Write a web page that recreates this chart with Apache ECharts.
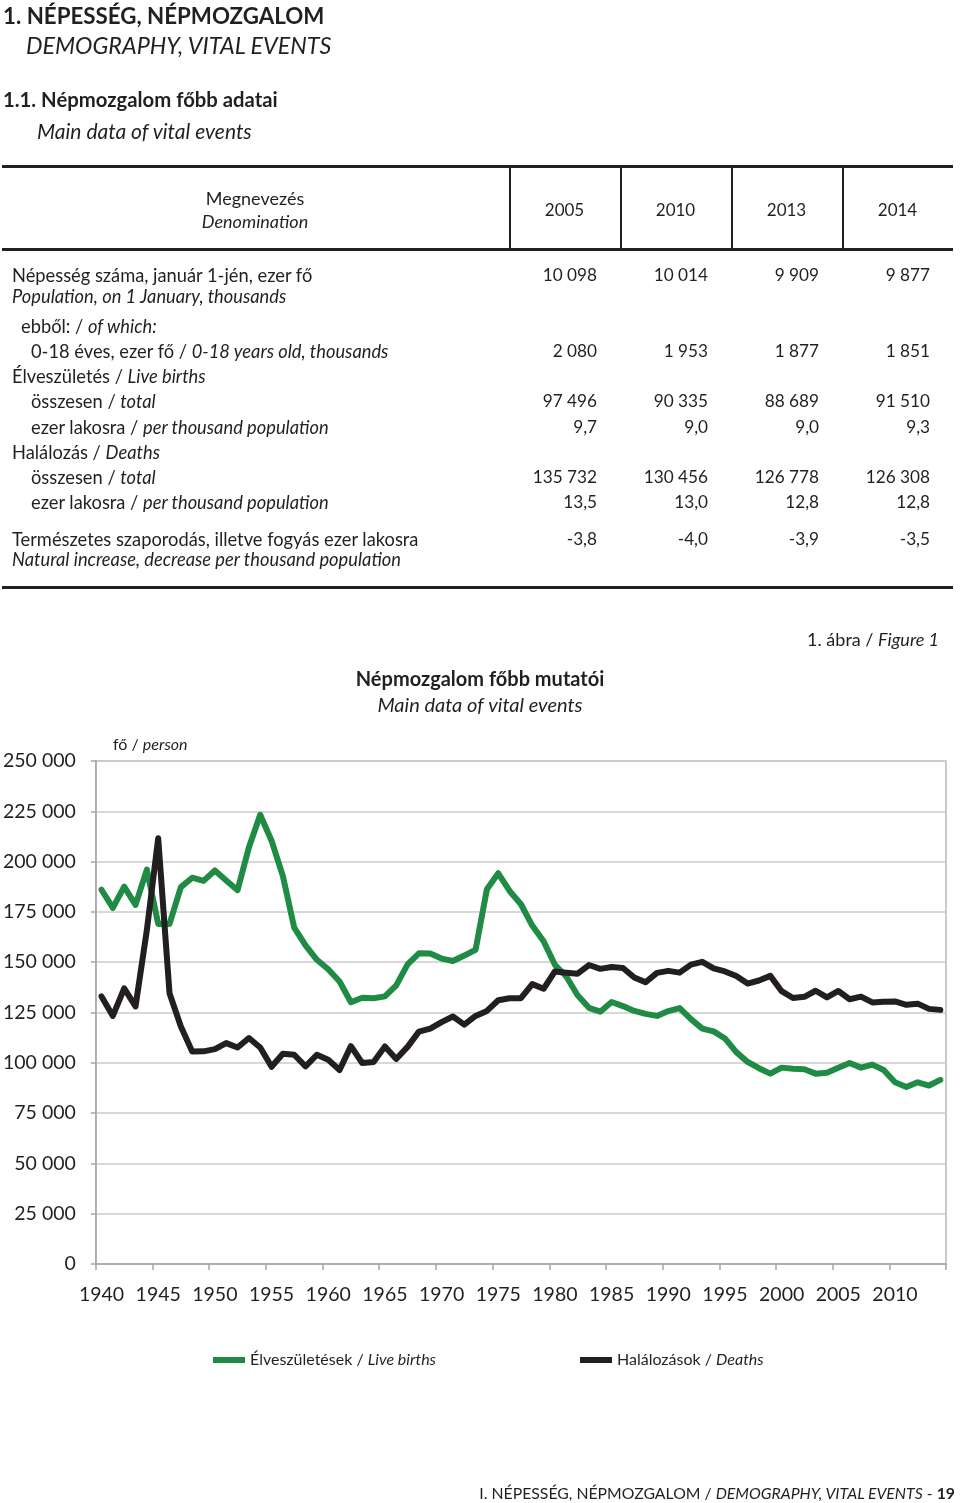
<!DOCTYPE html>
<html>
<head>
<meta charset="utf-8">
<script src="https://cdn.jsdelivr.net/npm/echarts/dist/echarts.min.js"></script>
<style>
html,body{margin:0;padding:0;background:#fff;}
#page{position:relative;width:960px;height:1503px;overflow:hidden;font-family:Lato,'Open Sans',sans-serif;color:#231f20;}
#chart{position:absolute;left:0;top:0;width:960px;height:1503px;}
.t{position:absolute;white-space:nowrap;line-height:1;transform:translateY(-50%);}
.r{transform:translate(-100%,-50%);}
.c{transform:translate(-50%,-50%);}
.ln{position:absolute;background:#231f20;}
</style>
</head>
<body>
<div id="page">
  <div id="chart"></div>
  <div id="overlay"></div>
</div>
<script>
// ---------------- DATA ----------------
const years = [];
for (let y = 1940; y <= 2014; y++) years.push(String(y));

const liveBirths = [
  186000,177000,187600,178500,196000,169000,169000,187300,192000,190400,
  195600,190600,185800,207000,223300,210400,192800,167200,158400,151200,
  146500,140400,130100,132300,132100,133000,138500,148900,154400,154300,
  151800,150600,153300,156200,186300,194200,185400,178800,168200,160400,
  148700,142900,133600,127300,125400,130200,128200,125800,124300,123300,
  125700,127200,121700,117000,115600,112100,105300,100400,97300,94600,
  97600,97000,96800,94600,95100,97500,99900,97600,99100,96400,
  90300,88000,90300,88700,91500
];
const deaths = [
  133000,123300,137000,128000,166000,211600,134600,118000,105600,105700,
  106800,109800,107600,112300,107600,98000,104500,104000,98200,104000,
  101500,96400,108300,99900,100400,108100,101900,107900,115500,117000,
  120200,123000,119000,123300,125800,131100,132100,132100,139100,136800,
  145400,144800,144300,148600,146700,147600,147100,142400,140000,144700,
  145700,144800,148800,150200,146900,145400,143100,139400,140900,143200,
  135600,132200,132800,135800,132500,135700,131600,132900,130000,130400,
  130500,128800,129400,126800,126300
];

const tableYears = ['2005','2010','2013','2014'];
const popTotal    = ['10 098','10 014','9 909','9 877'];
const pop0to18    = ['2 080','1 953','1 877','1 851'];
const birthsTotal = ['97 496','90 335','88 689','91 510'];
const birthsRate  = ['9,7','9,0','9,0','9,3'];
const deathsTotal = ['135 732','130 456','126 778','126 308'];
const deathsRate  = ['13,5','13,0','12,8','12,8'];
const naturalRate = ['-3,8','-4,0','-3,9','-3,5'];

const rowLabels = [
  'Népesség száma, január 1-jén, ezer fő',
  '<i>Population, on 1 January, thousands</i>',
  'ebből: / <i>of which:</i>',
  '0-18 éves, ezer fő / <i>0-18 years old, thousands</i>',
  'Élveszületés / <i>Live births</i>',
  'összesen / <i>total</i>',
  'ezer lakosra / <i>per thousand population</i>',
  'Halálozás / <i>Deaths</i>',
  'összesen / <i>total</i>',
  'ezer lakosra / <i>per thousand population</i>',
  'Természetes szaporodás, illetve fogyás ezer lakosra',
  '<i>Natural increase, decrease per thousand population</i>'
];
const rowValues = [popTotal, null, null, pop0to18, null, birthsTotal, birthsRate, null, deathsTotal, deathsRate, naturalRate, null];

// ---------------- LAYOUT (HTML part) ----------------
const ov = document.getElementById('overlay');
function txt(html, x, y, size, cls) {
  const d = document.createElement('div');
  d.className = 't' + (cls ? ' ' + cls : '');
  d.style.left = x + 'px';
  d.style.top = y + 'px';
  d.style.fontSize = size + 'px';
  d.innerHTML = html;
  ov.appendChild(d);
}
function line(x, y, w, h) {
  const d = document.createElement('div');
  d.className = 'ln';
  d.style.left = x + 'px'; d.style.top = y + 'px';
  d.style.width = w + 'px'; d.style.height = h + 'px';
  ov.appendChild(d);
}

txt('<b>1. NÉPESSÉG, NÉPMOZGALOM</b>', 3, 16, 22.3);
txt('<i>DEMOGRAPHY, VITAL EVENTS</i>', 26, 46, 23.3);
txt('<b>1.1. Népmozgalom főbb adatai</b>', 3, 99, 20.3);
txt('<i>Main data of vital events</i>', 37, 130, 21);

line(2, 165, 951, 3);
line(2, 248, 951, 3);
line(2, 586, 951, 3);
const colX = [509, 620, 731, 842, 953];
for (let i = 0; i < 4; i++) line(colX[i], 167, 1.5, 82);

txt('Megnevezés', 255, 198, 18, 'c');
txt('<i>Denomination</i>', 255, 221, 18, 'c');
tableYears.forEach((y, i) => txt(y, (colX[i] + colX[i + 1]) / 2, 209, 17, 'c'));

const rowY = [275, 296, 326, 351, 376, 401, 427, 452, 477, 502, 539, 559];
const rowX = [12, 12, 21, 31, 12, 31, 31, 12, 31, 31, 12, 12];
const valRight = [597, 708, 819, 930];
rowLabels.forEach((lab, i) => {
  txt(lab, rowX[i], rowY[i], 18.3);
  if (rowValues[i]) rowValues[i].forEach((v, j) => txt(v, valRight[j], rowY[i], 17.2, 'r'));
});

txt('1. ábra / <i>Figure 1</i>', 939, 639, 18, 'r');
txt('I. NÉPESSÉG, NÉPMOZGALOM / <i>DEMOGRAPHY, VITAL EVENTS</i> - <b>19</b>', 955, 1493, 15.8, 'r');

// ---------------- CHART ----------------
const FONT = 'Lato';
const INK = '#231f20';
const GREEN = '#1f8b45';
const GRAY = '#a6a6a6';
const chart = echarts.init(document.getElementById('chart'), null, {renderer: 'canvas'});
const fmt = v => String(v).replace(/\B(?=(\d{3})+(?!\d))/g, ' ');

chart.setOption({
  animation: false,
  backgroundColor: '#fff',
  title: {
    text: 'Népmozgalom főbb mutatói',
    subtext: 'Main data of vital events',
    left: 'center',
    top: 665,
    itemGap: 6,
    textStyle: {fontFamily: FONT, fontSize: 20, fontWeight: 'bold', color: INK},
    subtextStyle: {fontFamily: FONT, fontSize: 20, fontStyle: 'italic', color: INK}
  },
  graphic: [{
    type: 'text', left: 113, top: 737,
    style: {
      text: '{a|fő / }{b|person}',
      rich: {
        a: {fontFamily: FONT, fontSize: 16, fill: INK, color: INK},
        b: {fontFamily: FONT, fontSize: 16, fontStyle: 'italic', fill: INK, color: INK}
      }
    }
  }],
  legend: {
    left: 213, top: 1352, padding: 0,
    itemWidth: 32, itemHeight: 6, itemGap: 144,
    icon: 'rect',
    data: ['Élveszületések', 'Halálozások'],
    formatter: n => n === 'Élveszületések' ? '{a|Élveszületések / }{b|Live births}' : '{a|Halálozások / }{b|Deaths}',
    textStyle: {
      fontFamily: FONT, fontSize: 16, color: INK,
      rich: {
        a: {fontFamily: FONT, fontSize: 16, color: INK},
        b: {fontFamily: FONT, fontSize: 16, fontStyle: 'italic', color: INK}
      }
    }
  },
  grid: {left: 93, right: 14, top: 761, bottom: 239, show: true, borderColor: '#b9b9b9', borderWidth: 1.5, containLabel: false},
  xAxis: {
    type: 'category', data: years, boundaryGap: true,
    axisLine: {lineStyle: {color: GRAY, width: 1.5}},
    axisTick: {show: true, interval: 4, length: 6, lineStyle: {color: GRAY, width: 1.5}},
    axisLabel: {interval: 4, margin: 21, fontFamily: FONT, fontSize: 19.5, color: INK}
  },
  yAxis: {
    type: 'value', min: 0, max: 250000, interval: 25000,
    axisLine: {show: true, lineStyle: {color: GRAY, width: 1.5}},
    axisTick: {show: true, length: 5, lineStyle: {color: GRAY, width: 1.5}},
    splitLine: {lineStyle: {color: '#cbcbcb', width: 1.5}},
    axisLabel: {margin: 20, fontFamily: FONT, fontSize: 19.5, color: INK, formatter: fmt}
  },
  series: [
    {name: 'Élveszületések', type: 'line', data: liveBirths, symbol: 'none', color: GREEN,
     lineStyle: {width: 6, color: GREEN, cap: 'round', join: 'round'}},
    {name: 'Halálozások', type: 'line', data: deaths, symbol: 'none', color: INK,
     lineStyle: {width: 6, color: INK, cap: 'round', join: 'round'}}
  ]
});
</script>
</body>
</html>
